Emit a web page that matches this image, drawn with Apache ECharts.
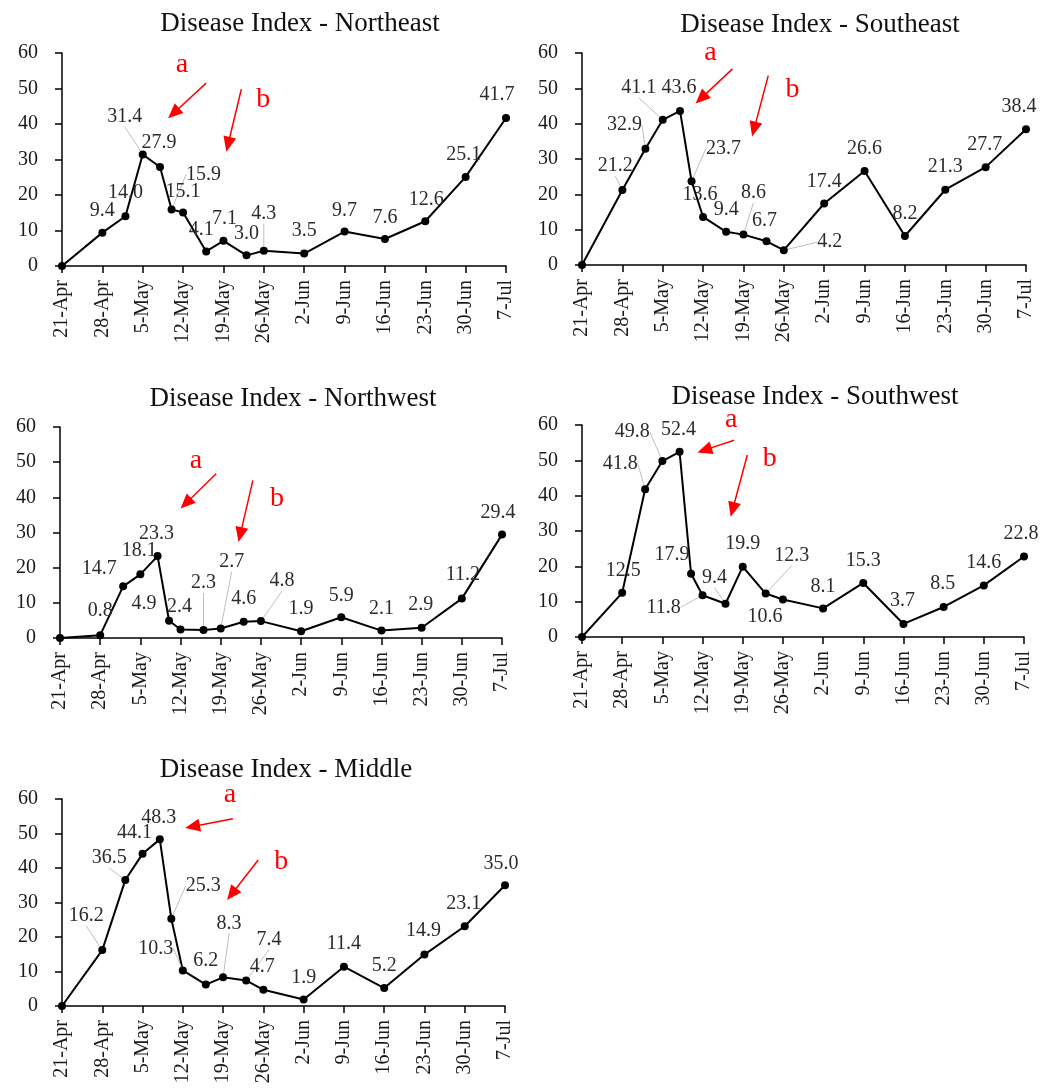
<!DOCTYPE html>
<html><head><meta charset="utf-8">
<script src="https://cdn.jsdelivr.net/npm/echarts@6/dist/echarts.min.js"></script>
<style>html,body{margin:0;padding:0;background:#fff}#c{width:1042px;height:1090px}</style>
</head><body><div id="c"></div>
<script>
// ---- data ----
const dayOffsets = [0,7,11,14,17,19,21,25,28,32,35,42,49,56,63,70,77]; // days after 21-Apr
const tickLabels = ['21-Apr','28-Apr','5-May','12-May','19-May','26-May','2-Jun','9-Jun','16-Jun','23-Jun','30-Jun','7-Jul'];
const regionNames = ['Northeast','Southeast','Northwest','Southwest','Middle'];
const northeast = [0,9.4,14.0,31.4,27.9,15.9,15.1,4.1,7.1,3.0,4.3,3.5,9.7,7.6,12.6,25.1,41.7];
const southeast = [0,21.2,32.9,41.1,43.6,23.7,13.6,9.4,8.6,6.7,4.2,17.4,26.6,8.2,21.3,27.7,38.4];
const northwest = [0,0.8,14.7,18.1,23.3,4.9,2.4,2.3,2.7,4.6,4.8,1.9,5.9,2.1,2.9,11.2,29.4];
const southwest = [0,12.5,41.8,49.8,52.4,17.9,11.8,9.4,19.9,12.3,10.6,8.1,15.3,3.7,8.5,14.6,22.8];
const middle    = [0,16.2,36.5,44.1,48.3,25.3,10.3,6.2,8.3,7.4,4.7,1.9,11.4,5.2,14.9,23.1,35.0];
const seriesValues = [northeast, southeast, northwest, southwest, middle];

// ---- layout (separate from data) ----
const grids = [
  {left:62, top:53, width:444, height:213},
  {left:582, top:53, width:444, height:212},
  {left:60, top:427, width:442, height:211},
  {left:582, top:425, width:442, height:212},
  {left:62, top:799, width:443, height:207}
];
const titlePos = [[295,20],[815,21],[288,395],[810,393],[281,766]];
// label offsets [dx, dy, leaderLine]
const neLabels = [null,[0,-22],[0,-24],[-18,-38,1],[-1,-24],[32,-35,1],[0,-21],[-5,-22],[1,-22],[0,-22],[0,-37,1],[0,-23],[0,-21],[0,-21],[1,-22],[-2,-22],[-9,-23]];
const seLabels = [null,[-7,-24,1],[-21,-24,1],[-24,-32,1],[-1,-23],[32,-33,1],[-3,-22],[0,-22],[10,-42,1],[-2,-21],[46,-8,1],[0,-22],[0,-22],[0,-22],[0,-23],[-1,-22],[-7,-23]];
const nwLabels = [null,[0,-24],[-24,-18],[-1,-24],[-1,-22],[-25,-17],[-1,-23],[0,-47,1],[11,-67,1],[0,-23],[21,-40,1],[0,-23],[0,-22],[0,-22],[-1,-23],[1,-24],[-4,-22]];
const swLabels = [null,[1,-22],[-25,-26,1],[-30,-29,1],[-1,-22],[-19,-19],[-39,12,1],[-11,-26,1],[0,-23],[26,-38,1],[-18,17],[0,-22],[0,-22],[-1,-23],[-1,-23],[0,-23],[-3,-23]];
const mdLabels = [null,[-16,-34,1],[-16,-22,1],[-8,-21],[-1,-22],[32,-33,1],[-27,-22,1],[0,-24],[6,-54,1],[23,-41,1],[-1,-23],[0,-22],[0,-23],[0,-22],[-1,-24],[-1,-23],[-4,-22]];
const labelOffsets = [neLabels, seLabels, nwLabels, swLabels, mdLabels];
// annotations in data units: [aText, aFrom, aTo, bText, bFrom, bTo]
const annotations = [
  [[20.8,56.7],[25.0,51.5],[18.4,41.6],[34.9,46.8],[31.1,49.8],[28.5,32.2]],
  [[22.3,60.0],[26.1,55.5],[19.7,45.7],[36.5,49.6],[32.3,53.6],[29.5,36.4]],
  [[23.7,50.5],[27.2,46.7],[21.0,36.8],[37.8,39.6],[33.6,44.8],[31.1,27.3]],
  [[26.0,61.4],[26.5,55.7],[20.1,52.2],[32.7,50.6],[28.8,51.5],[25.9,34.0]],
  [[29.2,61.2],[29.7,54.3],[21.4,51.6],[38.1,41.9],[34.1,42.3],[28.7,30.7]]
];

const FONT = '"Liberation Serif", "Times New Roman", serif';
const chart = echarts.init(document.getElementById('c'), null, {renderer:'canvas'});

const option = {
  backgroundColor:'#fff',
  animation:false,
  title: regionNames.map((n,i)=>({
    text:'Disease Index - ' + n, left:titlePos[i][0], top:titlePos[i][1]-15, textAlign:'center',
    textStyle:{fontFamily:FONT, fontSize:27, fontWeight:'normal', color:'#111'}
  })),
  grid: grids.map(g=>Object.assign({containLabel:false, outerBoundsMode:'none'}, g)),
  xAxis: grids.map((g,i)=>({
    type:'value', gridIndex:i, min:0, max:77, interval:7,
    axisLine:{show:true, lineStyle:{color:'#000', width:1.5}},
    axisTick:{show:true, inside:false, length:7, lineStyle:{color:'#000', width:1.5}},
    splitLine:{show:false},
    axisLabel:{rotate:90, margin:14, fontFamily:FONT, fontSize:20, color:'#1a1a1a',
      formatter:(v)=>tickLabels[Math.round(v/7)]}
  })),
  yAxis: grids.map((g,i)=>({
    type:'value', gridIndex:i, min:0, max:60, interval:10,
    axisLine:{show:true, lineStyle:{color:'#000', width:1.5}},
    axisTick:{show:true, inside:false, length:7, lineStyle:{color:'#000', width:1.5}},
    splitLine:{show:false},
    axisLabel:{margin:24, fontFamily:FONT, fontSize:20, color:'#1a1a1a'}
  })),
  series: seriesValues.map((vals,i)=>({
    type:'line', xAxisIndex:i, yAxisIndex:i, clip:false,
    symbol:'circle', symbolSize:8,
    lineStyle:{color:'#000', width:2},
    itemStyle:{color:'#000'},
    label:{show:true, position:'inside', fontFamily:FONT, fontSize:20, color:'#2b2b2b',
      formatter:(p)=>p.value[1].toFixed(1)},
    labelLine:{show:false, lineStyle:{color:'#bfbfbf', width:1}},
    labelLayout:(p)=>{const o=labelOffsets[i][p.dataIndex]; return o?{dx:o[0], dy:o[1]}:{};},
    data: vals.map((v,k)=>{
      const o = labelOffsets[i][k];
      return {
        value:[dayOffsets[k], v],
        label:{show: !!o},
        labelLine:{show: !!(o && o[2]), lineStyle:{color:'#bfbfbf', width:1}}
      };
    })
  }))
};
chart.setOption(option);

// red annotation arrows/letters placed through the grid's own scales
const gfx = [];
function arrow(p1,p2){
  const dx=p2[0]-p1[0], dy=p2[1]-p1[1], L=Math.hypot(dx,dy), ux=dx/L, uy=dy/L;
  const hl=15, hw=6.5, bx=p2[0]-ux*hl, by=p2[1]-uy*hl;
  gfx.push({type:'line', shape:{x1:p1[0],y1:p1[1],x2:bx+ux*2,y2:by+uy*2}, style:{stroke:'#ff0000', lineWidth:1.5}});
  gfx.push({type:'polygon', shape:{points:[[p2[0],p2[1]],[bx-uy*hw,by+ux*hw],[bx+uy*hw,by-ux*hw]]}, style:{fill:'#ff0000'}});
}
function letter(p,t){
  gfx.push({type:'text', x:p[0], y:p[1], style:{text:t, fill:'#ff0000', font:'28px ' + FONT,
    align:'center', verticalAlign:'middle', textAlign:'center', textVerticalAlign:'middle'}});
}
annotations.forEach((a,i)=>{
  const px = (pt)=>chart.convertToPixel({xAxisIndex:i, yAxisIndex:i}, pt);
  letter(px(a[0]),'a'); arrow(px(a[1]),px(a[2]));
  letter(px(a[3]),'b'); arrow(px(a[4]),px(a[5]));
});
chart.setOption({graphic: gfx});
</script>
</body></html>
